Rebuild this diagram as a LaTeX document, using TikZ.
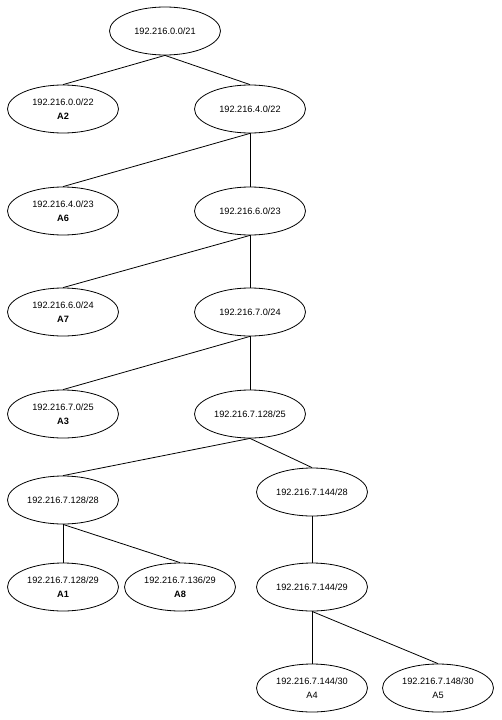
\documentclass[tikz,border=0pt]{standalone}
\usepackage{fontspec}
\setmainfont{Liberation Sans}
\usetikzlibrary{shapes.geometric}
\begin{document}
\begin{tikzpicture}[x=1pt,y=-1pt,
  net/.style={ellipse,draw,line width=0.8pt,minimum width=111pt,minimum height=48pt,
    inner sep=0pt,align=center,font=\fontsize{9.2}{13.5}\selectfont},
  link/.style={line width=0.8pt}]
\useasboundingbox (0,0) rectangle (501,720);
\node[net] (root) at (165,31) {192.216.0.0/21};
\node[net] (a2) at (63,109) {192.216.0.0/22\\\textbf{A2}};
\node[net] (n4) at (250,109) {192.216.4.0/22};
\node[net] (a6) at (63,211) {192.216.4.0/23\\\textbf{A6}};
\node[net] (n6) at (250,211) {192.216.6.0/23};
\node[net] (a7) at (63,312) {192.216.6.0/24\\\textbf{A7}};
\node[net] (n70) at (250,312) {192.216.7.0/24};
\node[net] (a3) at (63,414) {192.216.7.0/25\\\textbf{A3}};
\node[net] (n128) at (250,414) {192.216.7.128/25};
\node[net] (n128b) at (63,500) {192.216.7.128/28};
\node[net] (n144) at (312,492) {192.216.7.144/28};
\node[net] (a1) at (63,587) {192.216.7.128/29\\\textbf{A1}};
\node[net] (a8) at (180,587) {192.216.7.136/29\\\textbf{A8}};
\node[net] (n144b) at (312,587) {192.216.7.144/29};
\node[net] (a4) at (312,688) {192.216.7.144/30\\A4};
\node[net] (a5) at (438,688) {192.216.7.148/30\\A5};
\foreach \p/\c in {root/a2,root/n4,n4/a6,n4/n6,n6/a7,n6/n70,n70/a3,n70/n128,
  n128/n128b,n128/n144,n128b/a1,n128b/a8,n144/n144b,n144b/a4,n144b/a5}
  \draw[link] (\p.south) -- (\c.north);
\end{tikzpicture}
\end{document}
